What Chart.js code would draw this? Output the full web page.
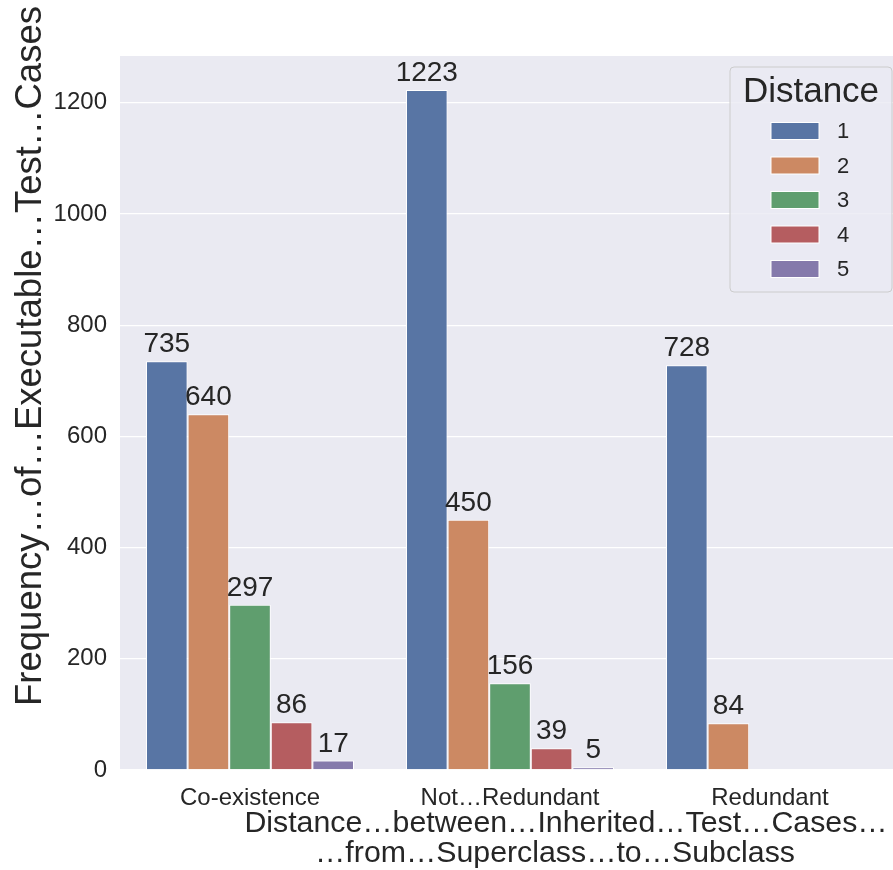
<!DOCTYPE html>
<html>
<head>
<meta charset="utf-8">
<script src="https://cdn.jsdelivr.net/npm/chart.js@4.4.1/dist/chart.umd.min.js"></script>
<style>
  html, body { margin: 0; padding: 0; background: #ffffff; overflow: hidden; }
  #wrap { width: 893px; height: 870px; overflow: hidden; position: relative; }
  canvas { display: block; }
</style>
</head>
<body>
<div id="wrap"><canvas id="chart" width="900" height="870"></canvas></div>
<script>
const categories = ['Co-existence', 'Not…Redundant', 'Redundant'];
const distances = ['1', '2', '3', '4', '5'];
const dist1 = [735, 1223, 728];
const dist2 = [640, 450, 84];
const dist3 = [297, 156, null];
const dist4 = [86, 39, null];
const dist5 = [17, 5, null];
const yTicks = [0, 200, 400, 600, 800, 1000, 1200];
const colors = ['#5875a4', '#cc8963', '#5f9e6e', '#b55d60', '#857aab'];

const yTitle = 'Frequency…of…Executable…Test…Cases';
const xTitle = ['Distance…between…Inherited…Test…Cases…', '…from…Superclass…to…Subclass'];
const legendTitle = 'Distance';

const FONT = '"Liberation Sans", Arial, sans-serif';
const TEXT = '#262626';

const series = [dist1, dist2, dist3, dist4, dist5];

/* grey seaborn panel behind the bars */
const panelBg = {
    id: 'panelBg',
    beforeDraw(chart) {
        const { ctx, chartArea: a } = chart;
        ctx.save();
        ctx.fillStyle = '#eaeaf2';
        ctx.fillRect(a.left, a.top, a.right - a.left, a.bottom - a.top);
        ctx.restore();
    }
};

/* value labels over each bar */
const barLabels = {
    id: 'barLabels',
    afterDatasetsDraw(chart) {
        const ctx = chart.ctx;
        ctx.save();
        ctx.font = '28px ' + FONT;
        ctx.fillStyle = TEXT;
        ctx.textAlign = 'center';
        ctx.textBaseline = 'alphabetic';
        chart.data.datasets.forEach((ds, i) => {
            chart.getDatasetMeta(i).data.forEach((bar, j) => {
                const v = ds.data[j];
                if (v === null) return;
                ctx.fillText(String(v), bar.x, bar.y - 9);
            });
        });
        ctx.restore();
    }
};

/* axis titles, legend box */
const extras = {
    id: 'extras',
    afterDraw(chart) {
        const { ctx, chartArea: a } = chart;
        ctx.save();
        ctx.fillStyle = TEXT;

        // y title
        ctx.font = '36.5px ' + FONT;
        ctx.textAlign = 'center';
        ctx.textBaseline = 'alphabetic';
        ctx.translate(41, (a.top + a.bottom) / 2 - 57);
        ctx.rotate(-Math.PI / 2);
        ctx.fillText(yTitle, 0, 0);
        ctx.setTransform(1, 0, 0, 1, 0, 0);

        // x title
        ctx.font = '30.3px ' + FONT;
        const cx = (a.left + a.right) / 2;
        ctx.fillText(xTitle[0], cx + 56, a.bottom + 62);
        ctx.fillText(xTitle[1], cx + 45, a.bottom + 92);

        // legend
        const bw = 162, bh = 225;
        const bx = a.right - 8 - bw, by = a.top + 11;
        ctx.beginPath();
        ctx.roundRect(bx, by, bw, bh, 4);
        ctx.fillStyle = 'rgba(234,234,242,0.8)';
        ctx.fill();
        ctx.strokeStyle = '#cccccc';
        ctx.lineWidth = 1;
        ctx.stroke();

        ctx.fillStyle = TEXT;
        ctx.font = '35px ' + FONT;
        ctx.textAlign = 'center';
        ctx.fillText(legendTitle, bx + bw / 2, by + 35);

        ctx.font = '22px ' + FONT;
        ctx.textAlign = 'left';
        ctx.textBaseline = 'middle';
        distances.forEach((d, i) => {
            const ry = by + 64 + i * 34.5;
            ctx.fillStyle = colors[i];
            ctx.fillRect(bx + 41, ry - 8.5, 48, 17);
            ctx.strokeStyle = '#ffffff';
            ctx.strokeRect(bx + 41, ry - 8.5, 48, 17);
            ctx.fillStyle = TEXT;
            ctx.fillText(d, bx + 107, ry + 1);
        });
        ctx.restore();
    }
};

new Chart(document.getElementById('chart'), {
    type: 'bar',
    data: {
        labels: categories,
        datasets: series.map((s, i) => ({
            label: distances[i],
            data: s,
            backgroundColor: colors[i],
            borderColor: '#ffffff',
            borderWidth: 1,
            categoryPercentage: 0.8,
            barPercentage: 1.0,
        })),
    },
    options: {
        responsive: false,
        devicePixelRatio: 1,
        animation: false,
        layout: { padding: { top: 56, left: 0, right: 0, bottom: 0 } },
        plugins: {
            legend: { display: false },
            tooltip: { enabled: false },
        },
        scales: {
            x: {
                grid: { display: false },
                border: { display: false },
                ticks: { font: { size: 24, family: FONT }, color: TEXT, padding: 6, maxRotation: 0 },
                afterFit: s => { s.height = 100; },
            },
            y: {
                min: 0,
                max: 1284.15,
                afterBuildTicks: s => { s.ticks = yTicks.map(v => ({ value: v })); },
                grid: { color: '#ffffff', lineWidth: 1.3, drawTicks: false },
                border: { display: false },
                ticks: {
                    font: { size: 24, family: FONT },
                    color: TEXT,
                    padding: 13,
                    callback: v => String(v),
                },
                afterFit: s => { s.width = 120; },
            },
        },
    },
    plugins: [panelBg, barLabels, extras],
});
</script>
</body>
</html>
